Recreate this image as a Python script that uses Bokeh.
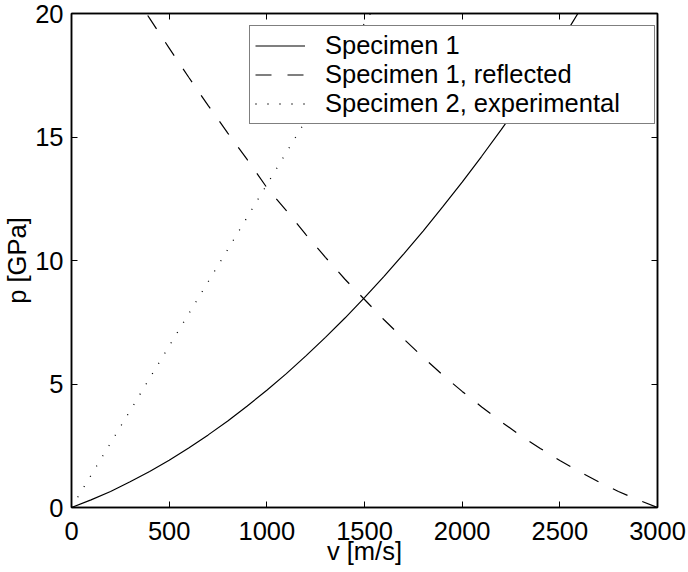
from bokeh.plotting import figure
from bokeh.models import (LinearAxis, SingleIntervalTicker, CustomJSTickFormatter,
                          Legend, LegendItem, Range1d)
from bokeh.embed import file_html
from bokeh.resources import INLINE

# ---- data ----
v_spec1 = [0, 100, 200, 300, 400, 500, 600, 700, 800, 900, 1000, 1100, 1200, 1300,
           1400, 1500, 1600, 1700, 1800, 1900, 2000, 2100, 2200, 2300, 2400, 2500,
           2600, 2700]
p_spec1 = [0.0, 0.31, 0.65, 1.04, 1.46, 1.91, 2.41, 2.94, 3.50, 4.11, 4.75, 5.42,
           6.14, 6.89, 7.67, 8.50, 9.36, 10.26, 11.19, 12.17, 13.17, 14.22, 15.30,
           16.42, 17.58, 18.80, 20.10, 21.40]

v_refl = [300, 400, 500, 600, 700, 800, 900, 1000, 1100, 1200, 1300, 1400, 1500,
          1600, 1700, 1800, 1900, 2000, 2100, 2200, 2300, 2400, 2500, 2600, 2700,
          2800, 2900, 3000]
p_refl = [21.0, 19.8, 18.6, 17.42, 16.27, 15.16, 14.08, 12.95, 12.02, 11.05, 10.13,
          9.24, 8.42, 7.60, 6.83, 6.08, 5.37, 4.70, 4.07, 3.47, 2.91, 2.39, 1.90,
          1.45, 1.03, 0.65, 0.31, 0.0]

v_spec2 = [0, 200, 400, 600, 800, 1000, 1200, 1400, 1600]
p_spec2 = [0.0, 2.61, 5.23, 7.84, 10.45, 13.07, 15.68, 18.30, 20.91]

labels = ["Specimen 1", "Specimen 1, reflected", "Specimen 2, experimental"]
x_title = "v [m/s]"
y_title = "p [GPa]"

FONT = "Liberation Sans"
FS = "25.5px"

p = figure(width=688, height=572, output_backend="svg", toolbar_location=None,
           x_range=Range1d(0, 3000), y_range=Range1d(0, 20),
           min_border_left=71, min_border_right=31, min_border_top=13,
           min_border_bottom=65, x_axis_type=None, y_axis_type=None)
p.background_fill_color = "white"
p.border_fill_color = "white"
p.outline_line_color = "black"
p.outline_line_width = 1.5
p.xgrid.visible = False
p.ygrid.visible = False

xt = SingleIntervalTicker(interval=500, num_minor_ticks=0)
yt = SingleIntervalTicker(interval=5, num_minor_ticks=0)
blank = CustomJSTickFormatter(code="return ''")


def style(ax, show):
    ax.major_tick_in = 6
    ax.major_tick_out = 0
    ax.minor_tick_in = 0
    ax.minor_tick_out = 0
    ax.axis_line_color = "black"
    ax.axis_line_width = 1.5
    ax.major_tick_line_color = "black"
    ax.major_tick_line_width = 1
    ax.major_label_text_font = FONT
    ax.major_label_text_font_size = FS
    ax.major_label_text_color = "black"
    ax.axis_label_text_font = FONT
    ax.axis_label_text_font_size = FS
    ax.axis_label_text_font_style = "normal"
    ax.axis_label_text_color = "black"
    if not show:
        ax.formatter = blank
        ax.major_label_standoff = 0


xb = LinearAxis(ticker=xt, axis_label=x_title)
style(xb, True)
xb.major_label_standoff = 14
xb.axis_label_standoff = -6
p.add_layout(xb, "below")

yl = LinearAxis(ticker=yt, axis_label=y_title)
style(yl, True)
yl.major_label_standoff = 8
yl.axis_label_standoff = 1
p.add_layout(yl, "left")

xa = LinearAxis(ticker=xt)
style(xa, False)
p.add_layout(xa, "above")

yr = LinearAxis(ticker=yt)
style(yr, False)
p.add_layout(yr, "right")

r1 = p.line(v_spec1, p_spec1, line_color="black", line_width=1.2)
r2 = p.line(v_refl, p_refl, line_color="black", line_width=1.2, line_dash="16 16")
r3 = p.line(v_spec2, p_spec2, line_color="black", line_width=1.3, line_dash="1 11")

legend = Legend(items=[LegendItem(label=labels[0], renderers=[r1]),
                       LegendItem(label=labels[1], renderers=[r2]),
                       LegendItem(label=labels[2], renderers=[r3])],
                location=(178, 383))
legend.padding = 5
legend.margin = 0
legend.spacing = 0
legend.label_height = 29
legend.glyph_height = 29
legend.glyph_width = 50
legend.label_standoff = 20
legend.label_width = 324
legend.label_text_font = FONT
legend.label_text_font_size = FS
legend.label_text_color = "black"
legend.border_line_color = "black"
legend.border_line_width = 1.5
legend.background_fill_color = "white"
legend.background_fill_alpha = 1.0
p.add_layout(legend, "center")

open("out.html", "w").write(file_html(p, INLINE))
